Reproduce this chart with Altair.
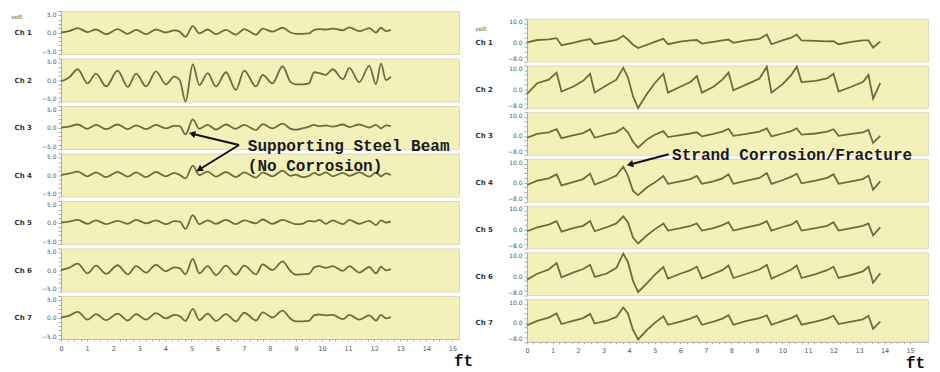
import altair as alt
import pandas as pd

# ---------------- data ----------------
# Left panel: supporting steel beam scan, 7 channels, volt vs ft
LEFT_FT = [0.0, 0.3, 0.64, 1.02, 1.34, 1.73, 2.17, 2.56, 2.88, 3.26, 3.64, 4.02, 4.34, 4.55,
           4.77, 5.05, 5.3, 5.62, 5.94, 6.32, 6.7, 7.02, 7.47, 7.73, 8.1, 8.49, 8.8, 9.0,
           9.25, 9.5, 9.7, 9.9, 10.15, 10.41, 10.8, 11.05, 11.43, 11.81, 12.07, 12.26, 12.45, 12.64]
L_CH1 = [0.0, 0.3, 1.0, 0.1, 0.7, -0.4, 0.8, -0.3, 0.6, -0.4, 0.7, 0.0, 0.5, 0.2, -1.0, 1.5,
         -0.2, 0.7, -0.4, 0.6, -0.5, 0.8, -0.5, 0.9, 0.2, 1.1, 0.0, -0.3, -0.3, -0.2, 0.6, 0.8,
         0.7, 0.9, 0.5, 1.2, 0.3, 1.0, 0.0, 1.1, 0.3, 0.6]
L_CH2 = [-0.3, 0.5, 2.5, -0.8, 1.5, -1.5, 2.2, -1.6, 1.5, -1.5, 2.0, -1.0, 0.8, 0.0, -5.0, 3.6,
         -1.2, 1.6, -1.5, 1.8, -2.3, 2.2, -1.5, 1.2, -0.8, 3.2, -0.5, -1.0, -1.0, -0.8, 1.8, 1.6,
         1.2, 2.5, 0.2, 2.8, -0.5, 3.3, -1.0, 3.8, 0.0, 0.8]
L_CH3 = [0.0, 0.2, 0.7, -0.3, 0.6, -0.4, 0.7, -0.4, 0.5, -0.4, 0.6, -0.2, 0.4, 0.3, -1.6, 1.9,
         -0.3, 0.6, -0.5, 0.7, -0.3, 0.6, -0.6, 0.8, -0.2, 0.9, -0.3, -0.5, -0.2, 0.2, 0.6, 0.3,
         0.5, 0.2, 0.7, 0.1, 0.7, 0.0, 0.6, -0.2, 0.5, 0.3]
L_CH4 = [0.0, 0.3, 0.8, -0.3, 0.6, -0.5, 0.7, -0.4, 0.6, -0.5, 0.7, -0.3, 0.5, 0.0, -0.8, 2.2,
         0.0, 0.8, -0.4, 0.7, -0.5, 0.6, -0.6, 0.6, -0.3, 1.0, -0.2, 0.1, -0.5, -0.2, 0.5, 0.0,
         0.6, -0.3, 0.5, -0.2, 0.6, -0.4, 0.6, -0.3, 0.4, 0.0]
L_CH5 = [0.0, 0.2, 0.6, -0.3, 0.5, -0.4, 0.4, -0.3, 0.6, -0.2, 0.5, -0.4, 0.3, 0.2, -1.5, 1.7,
         -0.4, 0.5, -0.3, 0.6, -0.4, 0.5, -0.2, 0.7, -0.3, 0.6, 0.0, -0.4, -0.3, 0.4, 0.2, 0.6,
         -0.3, 0.5, -0.4, 0.6, -0.3, 0.4, -0.6, 0.5, 0.0, 0.2]
L_CH6 = [0.0, 0.5, 1.5, -0.8, 1.0, -0.9, 1.1, -1.0, 0.9, -0.6, 1.2, -0.3, 0.6, 0.4, -1.0, 2.6,
         -0.8, 0.9, -1.2, 1.0, -1.1, 1.0, -1.0, 1.3, 0.0, 2.0, -0.3, -1.1, -1.0, -0.9, 0.6, 0.9,
         0.5, 0.9, -0.2, 0.9, -0.6, 0.7, -0.8, 0.8, -0.1, 0.2]
L_CH7 = [0.0, 0.4, 1.3, -0.5, 0.8, -0.6, 0.9, -0.7, 0.8, -0.5, 1.0, -0.2, 0.6, 0.3, -0.8, 2.0,
         -0.6, 0.9, -0.8, 0.8, -0.9, 1.1, -0.7, 1.2, 0.0, 1.6, -0.3, -0.9, -0.9, -0.8, 0.5, 0.7,
         0.5, 0.6, -0.4, 0.6, -0.5, 0.5, -0.7, 0.6, -0.2, 0.1]

# Right panel: strand corrosion / fracture scan
RIGHT_FT = [0.0, 0.4, 0.85, 1.16, 1.35, 1.8, 2.2, 2.47, 2.65, 3.1, 3.5, 3.77, 3.95, 4.15, 4.35,
            4.7, 5.0, 5.34, 5.52, 6.0, 6.4, 6.65, 6.85, 7.3, 7.65, 7.89, 8.08, 8.6, 9.1, 9.39,
            9.57, 10.0, 10.35, 10.56, 10.75, 11.3, 11.75, 12.0, 12.2, 12.7, 13.15, 13.37, 13.55, 13.83]
R_CH1 = [0.0, 1.0, 1.3, 1.8, -1.2, -0.2, 0.8, 1.4, -0.8, 0.2, 1.0, 2.8, 1.2, -1.0, -2.4, -1.0,
         0.2, 1.5, -0.8, 0.3, 0.8, 1.0, -0.5, 0.2, 0.8, 1.2, -0.2, 0.8, 1.5, 3.3, -0.8, 0.8, 2.0,
         3.3, 0.8, 0.6, 0.4, 0.5, -0.8, 0.2, 0.8, 0.8, -2.2, 0.3]
R_CH2 = [-2.0, 2.5, 4.0, 7.0, -1.0, 1.0, 3.5, 6.5, -1.5, 1.5, 4.0, 9.0, 5.0, -3.0, -8.0, -2.0,
         2.5, 6.5, -1.5, 1.0, 3.0, 5.5, -1.5, 1.0, 4.0, 7.0, -0.5, 2.0, 4.5, 9.5, -1.5, 2.0, 6.0,
         9.5, 3.0, 3.5, 4.5, 6.5, -1.0, 1.0, 3.0, 6.0, -4.0, 2.5]
R_CH3 = [-0.8, 0.8, 1.5, 2.8, -1.0, 0.2, 1.2, 2.8, -0.8, 0.5, 1.5, 3.5, 1.5, -2.5, -5.0, -1.5,
         0.5, 2.0, -0.5, 0.3, 1.0, 1.5, -0.2, 0.8, 1.8, 3.0, 0.0, 0.8, 1.8, 3.2, -0.2, 1.0, 2.0,
         3.2, 0.5, 1.0, 1.8, 2.8, 0.0, 0.8, 1.5, 2.5, -3.0, 0.0]
R_CH4 = [-1.0, 0.8, 1.8, 3.5, -1.2, 0.2, 1.5, 3.8, -0.8, 1.0, 3.0, 6.8, 3.0, -3.5, -5.3, -2.0,
         0.0, 2.8, -0.5, 0.5, 1.5, 2.8, -0.5, 0.5, 1.8, 3.5, -0.5, 0.8, 2.0, 4.0, -0.5, 1.0, 2.5,
         3.8, -0.3, 0.8, 2.0, 3.5, -0.5, 0.5, 1.5, 3.0, -3.0, 0.5]
R_CH5 = [-0.8, 0.8, 2.0, 3.5, -1.0, 0.5, 1.5, 3.5, -0.8, 0.8, 2.5, 5.5, 3.0, -3.5, -6.0, -2.5,
         0.0, 2.5, -0.5, 0.5, 1.5, 2.5, -0.5, 0.5, 1.8, 3.0, -0.5, 0.8, 2.0, 3.5, -0.5, 1.0, 2.0,
         3.5, -0.5, 0.5, 1.5, 3.0, -0.5, 0.5, 1.5, 2.5, -2.5, 0.8]
R_CH6 = [-1.5, 1.0, 2.8, 5.5, -0.5, 1.5, 3.0, 4.8, -0.3, 1.0, 3.5, 9.5, 6.0, -2.0, -6.8, -3.0,
         0.5, 3.8, -1.0, 1.0, 2.5, 4.0, -1.0, 1.0, 2.5, 4.5, -0.8, 1.0, 2.8, 4.8, -1.0, 1.0, 2.8,
         4.5, -0.8, 0.8, 2.5, 4.0, -0.8, 0.5, 2.0, 4.0, -2.8, 1.2]
R_CH7 = [-1.0, 0.8, 2.2, 4.0, -0.5, 0.8, 2.0, 3.8, -0.3, 0.8, 2.5, 6.5, 4.0, -3.0, -7.0, -3.0,
         0.0, 2.8, -0.8, 0.5, 1.8, 3.0, -0.8, 0.5, 1.8, 3.2, -0.8, 0.8, 2.0, 3.2, -0.8, 0.8, 2.0,
         3.2, -0.8, 0.5, 1.8, 3.0, -0.5, 0.5, 1.5, 3.0, -2.5, 0.5]

LEFT_CHANNELS = [L_CH1, L_CH2, L_CH3, L_CH4, L_CH5, L_CH6, L_CH7]
RIGHT_CHANNELS = [R_CH1, R_CH2, R_CH3, R_CH4, R_CH5, R_CH6, R_CH7]
CH_NAMES = ["Ch 1", "Ch 2", "Ch 3", "Ch 4", "Ch 5", "Ch 6", "Ch 7"]

X_LABELS = list(range(16))
X_TICKS = [i / 4 for i in range(61)]
L_YTICKS = list(range(-5, 6))
L_YLABELS = [-5, 0, 5]
R_YTICKS = list(range(-8, 11, 2))
R_YLABELS = [-8, 0, 10]

# annotations (positions in the Ch 4 row's own ft / volt units)
L_NOTE_TEXT = ["Supporting Steel Beam", "(No Corrosion)"]
L_NOTE_FT = [7.16, 7.16]
L_NOTE_V = [6.74, 2.09]
L_ARROW_FT = [6.82, 6.82]
L_ARROW_V = [6.98, 6.98]
L_ARROW_FT2 = [5.06, 5.33]
L_ARROW_V2 = [9.53, 1.4]
L_ARROW_ANG = [283, 239]

R_NOTE_TEXT = ["Strand Corrosion/Fracture"]
R_NOTE_FT = [5.68]
R_NOTE_V = [11.6]
R_ARROW_FT = [5.55]
R_ARROW_V = [12.0]
R_ARROW_FT2 = [4.07]
R_ARROW_V2 = [7.8]
R_ARROW_ANG = [256]

# ---------------- styling ----------------
LINE_COLOR = "#6d6c3b"
BAND = "#f4f0b9"
NOTE_FONT = "Liberation Mono"

L_CFG = dict(xdom=[0, 15.25], w=398, h=43, ydom=[-5, 5], yticks=L_YTICKS, ylabels=L_YLABELS,
             titleX=-47, interp="monotone", voltX=-50, voltY=6, ftX=402, spacing=4.5)
R_CFG = dict(xdom=[0, 15.7], w=401, h=42.5, ydom=[-8, 10], yticks=R_YTICKS, ylabels=R_YLABELS,
             titleX=-52, interp="linear", voltX=-52, voltY=10, ftX=388, spacing=3.75)


def encodings(cfg, ch_name, last):
    lo, hi = cfg["ydom"]
    if last:
        xaxis = alt.Axis(values=X_TICKS,
                         labelExpr="datum.value % 1 === 0 ? format(datum.value, 'd') : ''",
                         title="ft", titleX=cfg["ftX"], titleY=21, titleAlign="center",
                         titleBaseline="middle", titleFont=NOTE_FONT, titleFontSize=16,
                         titleFontWeight="bold", titleColor="#111",
                         labelFontSize=6.5, labelColor="#555", labelFont="DejaVu Sans",
                         labelOverlap=False, labelFlush=False,
                         tickSize=2, tickColor="#aaa", domainColor="#bbb", grid=False,
                         labelPadding=4)
    else:
        xaxis = None
    label_list = ",".join(str(v) for v in cfg["ylabels"])
    yaxis = alt.Axis(values=cfg["yticks"],
                     labelExpr=f"indexof([{label_list}], datum.value) >= 0 ? format(datum.value, '.1f') : ''",
                     title=ch_name, titleAngle=0, titleX=cfg["titleX"],
                     titleY=cfg["h"] * hi / (hi - lo), titleAlign="left", titleBaseline="middle",
                     titleFontSize=7, titleFontWeight="bold", titleFont="DejaVu Sans",
                     titleColor="#333", labelFontSize=6, labelColor="#555",
                     labelFont="DejaVu Sans", labelFlush=True, labelOverlap=False,
                     tickSize=3, tickColor="#aaa", domainColor="#aaa", grid=False,
                     labelPadding=2)
    x = alt.X("ft:Q", scale=alt.Scale(domain=cfg["xdom"], nice=False, zero=False), axis=xaxis)
    y = alt.Y("v:Q", scale=alt.Scale(domain=cfg["ydom"], nice=False, zero=False), axis=yaxis)
    return x, y


def make_row(xs, ys, idx, cfg, notes=None):
    last = idx == 6
    x, y = encodings(cfg, CH_NAMES[idx], last)
    df = pd.DataFrame({"ft": xs, "v": ys})
    layers = [alt.Chart(df).mark_line(color=LINE_COLOR, strokeWidth=1.8,
                                      interpolate=cfg["interp"]).encode(x=x, y=y)]
    if idx == 0:
        layers.append(
            alt.Chart(pd.DataFrame({"t": ["volt"]})).mark_text(
                align="left", baseline="middle", fontSize=6, color="#555", font="DejaVu Sans"
            ).encode(x=alt.value(cfg["voltX"]), y=alt.value(cfg["voltY"]), text="t:N"))
    if notes is not None:
        tdf = pd.DataFrame({"ft": notes["tft"], "v": notes["tv"], "t": notes["text"]})
        adf = pd.DataFrame({"ft": notes["aft"], "v": notes["av"], "ft2": notes["aft2"],
                            "v2": notes["av2"]})
        hdf = pd.DataFrame({"ft": notes["aft2"], "v": notes["av2"], "ang": notes["ang"]})
        layers.append(alt.Chart(adf).mark_rule(color="#111", strokeWidth=2).encode(
            x=x, y=y, x2="ft2:Q", y2="v2:Q"))
        layers.append(alt.Chart(hdf).mark_point(shape="triangle", filled=True, size=55,
                                                color="#111", opacity=1).encode(
            x=x, y=y, angle=alt.Angle("ang:Q", scale=None)))
        layers.append(alt.Chart(tdf).mark_text(align="left", baseline="middle", font=NOTE_FONT,
                                               fontSize=16, fontWeight="bold",
                                               color="#1a1a1a").encode(x=x, y=y, text="t:N"))
    return alt.layer(*layers).properties(
        width=cfg["w"], height=cfg["h"],
        view=alt.ViewBackground(fill=BAND, stroke="#dcd9c0", strokeWidth=1))


left_notes = dict(tft=L_NOTE_FT, tv=L_NOTE_V, text=L_NOTE_TEXT, aft=L_ARROW_FT, av=L_ARROW_V,
                  aft2=L_ARROW_FT2, av2=L_ARROW_V2, ang=L_ARROW_ANG)
right_notes = dict(tft=R_NOTE_FT, tv=R_NOTE_V, text=R_NOTE_TEXT, aft=R_ARROW_FT, av=R_ARROW_V,
                   aft2=R_ARROW_FT2, av2=R_ARROW_V2, ang=R_ARROW_ANG)

left_rows = [make_row(LEFT_FT, LEFT_CHANNELS[i], i, L_CFG, left_notes if i == 3 else None)
             for i in range(7)]
right_rows = [make_row(RIGHT_FT, RIGHT_CHANNELS[i], i, R_CFG, right_notes if i == 3 else None)
              for i in range(7)]

spacer = alt.Chart(pd.DataFrame({"a": [0]})).mark_point(opacity=0).encode(
    x=alt.value(0), y=alt.value(0)).properties(
    width=R_CFG["w"], height=3.25,
    view=alt.ViewBackground(fillOpacity=0, strokeOpacity=0))

left = alt.vconcat(*left_rows, spacing=L_CFG["spacing"], bounds="flush")
right = alt.vconcat(spacer, *right_rows, spacing=R_CFG["spacing"], bounds="flush")

chart = alt.hconcat(left, right, spacing=0).properties(
    padding={"left": 2, "top": 0, "right": 2, "bottom": 0}
).configure_view(strokeWidth=0).configure(background="white")

chart.save("out.html", embed_options={"renderer": "svg", "actions": False})
